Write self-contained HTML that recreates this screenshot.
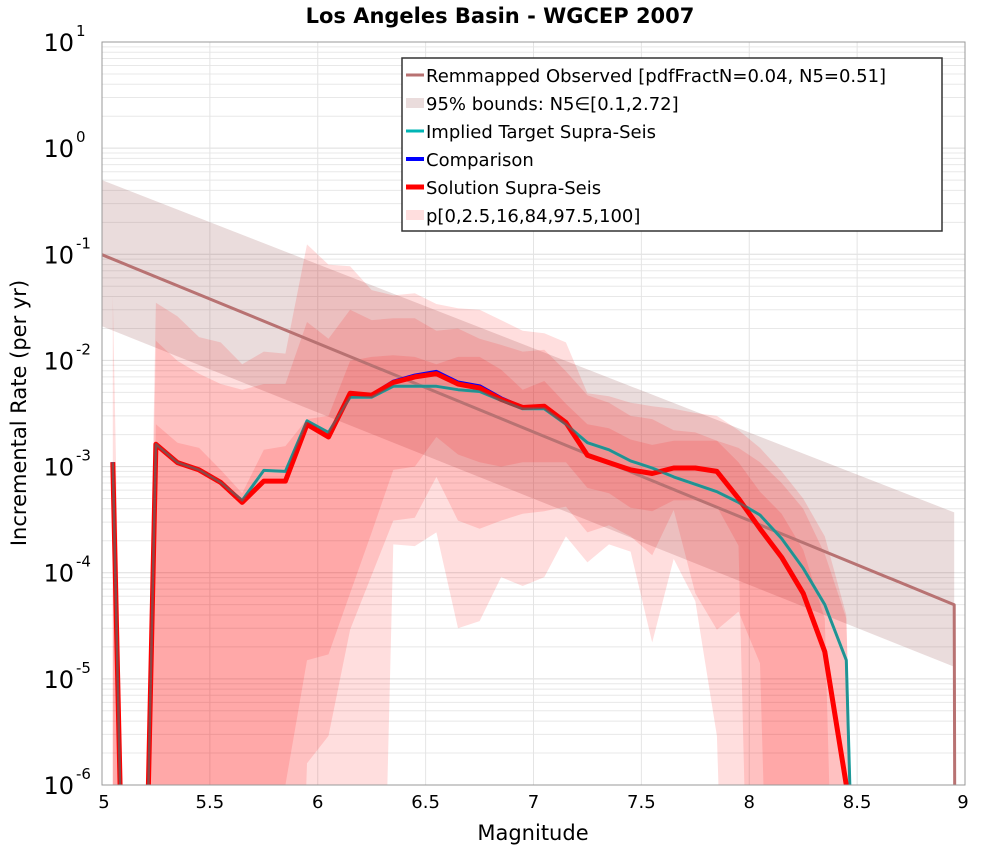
<!DOCTYPE html>
<html><head><meta charset="utf-8"><style>
html,body{margin:0;background:#fff;width:1000px;height:850px;overflow:hidden;}
svg{display:block;font-family:"DejaVu Sans","Liberation Sans",sans-serif;}
</style></head><body>
<svg id="chart" width="1000" height="850" xmlns="http://www.w3.org/2000/svg">
<defs><clipPath id="clip"><rect x="102" y="42" width="863" height="743"/></clipPath></defs>
<text x="500" y="23" text-anchor="middle" font-size="21" font-weight="bold">Los Angeles Basin - WGCEP 2007</text>
<g id="grid"></g>
<g id="plot" clip-path="url(#clip)"></g>
<rect x="102" y="42" width="863" height="743" fill="none" stroke="#999" stroke-width="1"/>
<g id="axes"></g>
<text x="533" y="840" text-anchor="middle" font-size="21">Magnitude</text>
<text x="0" y="0" transform="translate(26,413) rotate(-90)" text-anchor="middle" font-size="21">Incremental Rate (per yr)</text>
<g id="legend">
<rect x="402" y="58" width="540" height="173" fill="#fff" stroke="#333" stroke-width="1.5"/>
</g>
</svg>
<script>
const mags=[5.05,5.15,5.25,5.35,5.45,5.55,5.65,5.75,5.85,5.95,6.05,6.15,6.25,6.35,6.45,6.55,6.65,6.75,6.85,6.95,7.05,7.15,7.25,7.35,7.45,7.55,7.65,7.75,7.85,7.95,8.05,8.15,8.25,8.35,8.45,8.55];
const solution=[0.0011,0,0.00162,0.00109,0.00093,0.00071,0.00046,0.00073,0.00073,0.0025,0.0019,0.0049,0.0047,0.0062,0.0070,0.0075,0.0060,0.0055,0.0043,0.0036,0.0037,0.0026,0.00128,0.00109,0.00093,0.00086,0.00097,0.00097,0.0009,0.0005,0.00026,0.00014,0.000064,0.000018,0.000001,0];
const comparison=[0.0011,0,0.00162,0.00109,0.00093,0.00071,0.00046,0.00073,0.00073,0.0025,0.0019,0.0049,0.0047,0.0063,0.0072,0.0078,0.0062,0.0057,0.0044,0.0036,0.0037,0.0026,0.00128,0.00109,0.00093,0.00086,0.00097,0.00097,0.0009,0.0005,0.00026,0.00014,0.000064,0.000018,0.000001,0];
const target=[0.0011,0,0.00162,0.00109,0.00093,0.00071,0.00048,0.00092,0.0009,0.0027,0.0021,0.0045,0.0045,0.0057,0.0057,0.0057,0.0053,0.0051,0.0042,0.0035,0.0035,0.0025,0.00168,0.00144,0.00113,0.00097,0.0008,0.00068,0.00058,0.00046,0.00035,0.00021,0.00011,0.00005,0.000015,0];
const p100=[0.041,0,0.035,0.026,0.0166,0.0148,0.0092,0.0121,0.0116,0.124,0.080,0.077,0.046,0.041,0.043,0.034,0.031,0.030,0.024,0.019,0.018,0.0148,0.0049,0.0046,0.004,0.0037,0.0035,0.0032,0.003,0.0022,0.0015,0.0009,0.0005,0.00022,0.00004,0];
const p975=[0.0011,0,0.0153,0.0099,0.0075,0.006,0.0053,0.006,0.006,0.023,0.016,0.030,0.024,0.025,0.025,0.019,0.020,0.016,0.014,0.0121,0.0126,0.0079,0.0047,0.004,0.003,0.0028,0.0022,0.0021,0.00175,0.0015,0.0011,0.0007,0.0004,0.00015,0.000037,0];
const p84=[0.0011,0,0.0025,0.00168,0.0015,0.00093,0.00056,0.00144,0.00156,0.0028,0.003,0.0099,0.0108,0.0112,0.0108,0.0092,0.0108,0.0108,0.0082,0.0053,0.0064,0.0039,0.0025,0.0023,0.0018,0.0016,0.00175,0.00175,0.00175,0.0011,0.00058,0.00036,0.000164,0.000037,0,0];
const p16=[0,0,0,0,0,0,0,0,0.000001,0.000015,0.000017,0.000064,0.00024,0.00093,0.001,0.0019,0.0013,0.0011,0.001,0.0011,0.0011,0.0011,0.00063,0.00056,0.00041,0.00038,0.00048,0.00048,0.00042,0.00018,0,0,0,0,0,0];
const p25=[0,0,0,0,0,0,0,0,0,0.0000016,0.0000029,0.000029,0.000095,0.00031,0.00033,0.0008,0.00031,0.00026,0.00031,0.00036,0.00038,0.00042,0.00024,0.00028,0.00022,0.000146,0.00039,0.000064,0.000029,0.000043,0.000014,0,0,0,0,0];
const p0=[0,0,0,0,0,0,0,0,0,0,0,0,0,0.000185,0.000178,0.00024,0.00003,0.000035,0.000091,0.000075,0.000091,0.00022,0.000125,0.000185,0.000158,0.000022,0.000135,0.000054,0.0000029,0,0,0,0,0,0,0];
const obsMags=[5,8.95,8.96];
const observed=[0.099,0.00005,0];
const boundMags=[5,8.95];
const boundUpper=[0.5,0.00037];
const boundLower=[0.021,0.000013];
const xTicks=[5,5.5,6,6.5,7,7.5,8,8.5,9];
const xTickLabels=["5","5.5","6","6.5","7","7.5","8","8.5","9"];
const yExps=[-6,-5,-4,-3,-2,-1,0,1];

const X0=102,X1=965,Y0=785,Y1=42,LMIN=-6,LMAX=1;
function xs(m){return X0+(m-5)/4*(X1-X0);}
function ys(v){const l=v>0?Math.log10(v):-12;return Y0-(l-LMIN)/(LMAX-LMIN)*(Y0-Y1);}
const NS="http://www.w3.org/2000/svg";
function mk(t,a,p){const e=document.createElementNS(NS,t);for(const k in a)e.setAttribute(k,a[k]);p.appendChild(e);return e;}
const grid=document.getElementById('grid'),plot=document.getElementById('plot'),axes=document.getElementById('axes'),legend=document.getElementById('legend');

for(let e=-6;e<1;e++){for(let k=1;k<10;k++){const y=ys(k*Math.pow(10,e));
const g=mk('line',{x1:X0,x2:X1,y1:y,y2:y,stroke:k==1?'#ddd':'#e8e8e8','stroke-width':1},grid);

}}
xTicks.forEach((m,i)=>{const x=xs(m);
const g=mk('line',{x1:x,x2:x,y1:Y1,y2:Y0,stroke:'#e4e4e4','stroke-width':1},grid);


const t=mk('text',{x:i==0?x+2:(i==xTicks.length-1?x-2:x),y:808,'text-anchor':'middle','font-size':18},axes);
t.textContent=xTickLabels[i];

});
yExps.forEach(e=>{const y=ys(Math.pow(10,e));
const t=mk('text',{x:74,y:y+9,'text-anchor':'end','font-size':24},axes);
t.textContent='10';


const s=mk('text',{x:76,y:y-6,'text-anchor':'start','font-size':15},axes);
s.textContent=String(e);

});

function band(mm,lo,hi,fill,op,name){let d='';
mm.forEach((m,i)=>{d+=(i?'L':'M')+xs(m).toFixed(1)+','+ys(hi[i]).toFixed(1);});
for(let i=mm.length-1;i>=0;i--)d+='L'+xs(mm[i]).toFixed(1)+','+ys(lo[i]).toFixed(1);
const p=mk('path',{d:d+'Z',fill:fill,'fill-opacity':op,stroke:'none'},plot);

}
function line(mm,v,col,w,name){let d='';
mm.forEach((m,i)=>{d+=(i?'L':'M')+xs(m).toFixed(1)+','+ys(v[i]).toFixed(1);});
const p=mk('path',{d:d,fill:'none',stroke:col,'stroke-width':w,'stroke-linejoin':'round'},plot);

}

band(boundMags,boundLower,boundUpper,'rgb(150,80,80)',0.2,'observed-95-bounds');
band(mags,p0,p100,'rgb(255,0,0)',0.13,'band-p0-p100');
band(mags,p25,p975,'rgb(255,0,0)',0.13,'band-p2.5-p97.5');
band(mags,p16,p84,'rgb(255,0,0)',0.13,'band-p16-p84');
line(obsMags,observed,'#b87272',3,'observed-line');
line(mags,target,'#00b5b5',3,'target-line');
line(mags,comparison,'#0000ff',4,'comparison-line');
line(mags,solution,'#ff0000',5,'solution-line');
line(mags,target,'rgba(60,120,120,0.6)',2.5,'target-line-overlay');

const items=[['Remmapped Observed [pdfFractN=0.04, N5=0.51]','line','#b87272',3],
['95% bounds: N5∈[0.1,2.72]','box','rgba(150,80,80,0.2)',0],
['Implied Target Supra-Seis','line','#00b5b5',3],
['Comparison','line','#0000ff',4],
['Solution Supra-Seis','line','#ff0000',5],
['p[0,2.5,16,84,97.5,100]','box','rgba(255,0,0,0.13)',0]];
items.forEach((it,i)=>{const y=75+i*28;
let s;
if(it[1]=='line')s=mk('line',{x1:406,x2:424,y1:y,y2:y,stroke:it[2],'stroke-width':it[3]},legend);
else s=mk('rect',{x:406,y:y-5,width:18,height:10,fill:it[2]},legend);


const t=mk('text',{x:426,y:y+7,'font-size':18},legend);
t.textContent=it[0];

});
</script>
</body></html>
